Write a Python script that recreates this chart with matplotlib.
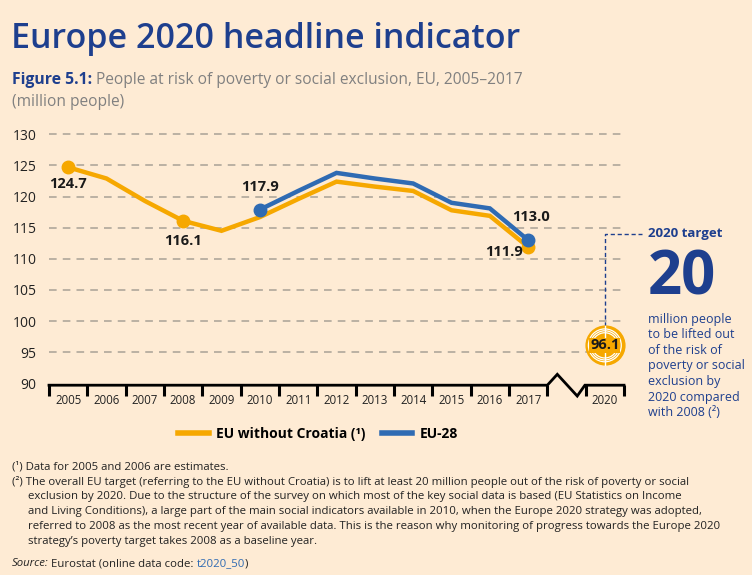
import numpy as np
import matplotlib
matplotlib.use('Agg')
import matplotlib.pyplot as plt
from matplotlib.lines import Line2D

# data (million people)
years = ['2005', '2006', '2007', '2008', '2009', '2010', '2011', '2012',
         '2013', '2014', '2015', '2016', '2017', '2020']
x_pos = [0, 1, 2, 3, 4, 5, 6, 7, 8, 9, 10, 11, 12, 14]
eu_no_hr = [124.7, 122.9, 119.3, 116.1, 114.5, 116.7, 119.6, 122.4,
            121.6, 120.9, 117.8, 116.9, 111.9]
eu28_years = [5, 6, 7, 8, 9, 10, 11, 12]
eu28 = [117.9, 120.9, 123.8, 122.9, 122.1, 119.0, 118.1, 113.0]
target_x = 14
target_val = 96.1
yticks = [90, 95, 100, 105, 110, 115, 120, 125, 130]

BG = '#FEEBD4'
ORANGE = '#F6A800'
BLUE = '#2F6BB3'
NAVY = '#1E3F8E'
GREY = '#808080'
INK = '#1a1a1a'
W, H = 752, 575

plt.rcParams['font.family'] = ['Open Sans', 'DejaVu Sans']

fig = plt.figure(figsize=(7.52, 5.75), dpi=100, facecolor=BG)
renderer = fig.canvas.get_renderer()


def fx(px):
    return px / W


def fy(py):
    return 1 - py / H


def seq_text(x0, y, parts):
    # put text pieces one after another on a line (x0, y in pixels)
    x = x0
    for s, kw, gap in parts:
        t = fig.text(fx(x), fy(y), s, va='center', ha='left', **kw)
        x = t.get_window_extent(renderer).x1 + gap


ax = fig.add_axes([fx(49), fy(385.2), fx(624) - fx(49), fy(134.3) - fy(385.2)])
ax.set_facecolor(BG)
ax.set_xlim(-0.5, 14.5)
ax.set_ylim(89.7, 130)
for s in ax.spines.values():
    s.set_visible(False)

# gridlines
for v in yticks[1:]:
    ax.axhline(v, color='#A8A196', lw=1.1, ls=(0, (5, 4)), zorder=1, clip_on=False)

ax.set_yticks(yticks)
ax.set_yticklabels([str(v) for v in yticks], fontsize=10, color='#222222')
ax.tick_params(axis='y', length=0, pad=9)
ax.set_xticks(x_pos)
ax.set_xticklabels(years, fontsize=8.3, color='#222222')
ax.tick_params(axis='x', length=0, pad=6)

# broken x axis
ybase = 89.7
ax.plot([-0.5, 12.5, 12.76, 13.28, 13.48, 14.5],
        [ybase, ybase, 91.45, 87.96, ybase, ybase],
        color='black', lw=2, clip_on=False, zorder=3, solid_joinstyle='miter')
tick_x = [i - 0.5 for i in range(14)] + [13.5, 14.5]
for tx in tick_x:
    ax.plot([tx, tx], [ybase, ybase - 1.75], color='black', lw=2.2,
            clip_on=False, zorder=3, solid_capstyle='butt')

# series
ax.plot(x_pos[:13], eu_no_hr, color=ORANGE, lw=3.2, zorder=4,
        solid_joinstyle='miter')
ax.plot(eu28_years, eu28, color=BLUE, lw=3.2, zorder=5, solid_joinstyle='miter')
for i in [0, 3, 12]:
    ax.plot(x_pos[i], eu_no_hr[i], 'o', color=ORANGE, ms=9, zorder=4)
for i in [0, 7]:
    ax.plot(eu28_years[i], eu28[i], 'o', color=BLUE, ms=9, zorder=5)

lab = dict(fontsize=10.5, fontweight='bold', color=INK, ha='center',
           va='center', textcoords='offset points', zorder=6)
ax.annotate(f'{eu_no_hr[0]:.1f}', (x_pos[0], eu_no_hr[0]), xytext=(0, -12.3), **lab)
ax.annotate(f'{eu_no_hr[3]:.1f}', (x_pos[3], eu_no_hr[3]), xytext=(0, -14.4), **lab)
ax.annotate(f'{eu28[0]:.1f}', (eu28_years[0], eu28[0]), xytext=(0, 16.3), **lab)
ax.annotate(f'{eu28[-1]:.1f}', (eu28_years[-1], eu28[-1]), xytext=(2, 16.3), **lab)
ax.annotate(f'{eu_no_hr[12]:.1f}', (x_pos[12], eu_no_hr[12]), xytext=(-17.7, -3.3), **lab)

# 2020 target marker
ax.scatter([target_x], [target_val], s=780, color=ORANGE, zorder=6, clip_on=False)
for s in [560, 440, 330]:
    ax.scatter([target_x], [target_val], s=s, facecolor='none', edgecolor='white',
               lw=0.9, zorder=7, clip_on=False)
ax.plot([target_x, target_x], [target_val - 3.1, target_val + 3.1], color='white',
        lw=1, zorder=7, clip_on=False)
ax.text(target_x, target_val, f'{target_val:.1f}', fontsize=10.5, fontweight='bold',
        color=INK, ha='center', va='center', zorder=8,
        bbox=dict(boxstyle='square,pad=0.05', fc=ORANGE, ec='none'))
ax.plot([target_x, target_x, target_x + 0.97], [target_val + 3.1, 114.0, 114.0],
        color=NAVY, lw=1, ls=(0, (3, 2)), zorder=5, clip_on=False)

# right side text
fig.text(fx(648), fy(234), '2020 target', fontsize=9.5, fontweight='bold',
         color=NAVY, va='center', ha='left')
fig.text(fx(648), fy(279), '20', fontsize=43, fontweight='bold', color=NAVY,
         va='center', ha='left')
fig.text(fx(648), fy(313), 'million people\nto be lifted out\nof the risk of\n'
         'poverty or social\nexclusion by\n2020 compared\nwith 2008 (\u00b2)',
         fontsize=9, color=NAVY, va='top', ha='left', linespacing=1.25)

# title
fig.text(fx(11), fy(39), 'Europe 2020 headline indicator', fontsize=24.5,
         fontweight='semibold', color=NAVY, va='center', ha='left')
seq_text(12, 80, [('Figure 5.1:', dict(fontsize=11.3, fontweight='bold', color=NAVY), 4),
                  ('People at risk of poverty or social exclusion, EU, 2005\u20132017',
                   dict(fontsize=11.2, color=GREY), 0)])
fig.text(fx(12), fy(102), '(million people)', fontsize=11.2, color=GREY,
         va='center', ha='left')

# legend
handles = [Line2D([], [], color=ORANGE, lw=4), Line2D([], [], color=BLUE, lw=4)]
fig.legend(handles, ['EU without Croatia (\u00b9)', 'EU-28'], loc='center',
           bbox_to_anchor=(fx(318), fy(434)), ncol=2, frameon=False,
           prop=dict(size=10, weight='bold'), handlelength=2.2,
           columnspacing=1.2, handletextpad=0.5)

# footnotes
FS = 8.2
fn = dict(fontsize=FS, color='#222222')
fig.text(fx(12), fy(467), '(\u00b9) Data for 2005 and 2006 are estimates.',
         va='center', ha='left', **fn)
fig.text(fx(12), fy(482), '(\u00b2) The overall EU target (referring to the EU without Croatia) '
         'is to lift at least 20 million people out of the risk of poverty or social',
         va='center', ha='left', **fn)
lines = ['exclusion by 2020. Due to the structure of the survey on which most of the key '
         'social data is based (EU Statistics on Income',
         'and Living Conditions), a large part of the main social indicators available in '
         '2010, when the Europe 2020 strategy was adopted,',
         'referred to 2008 as the most recent year of available data. This is the reason why '
         'monitoring of progress towards the Europe 2020',
         'strategy\u2019s poverty target takes 2008 as a baseline year.']
for k, ln in enumerate(lines):
    fig.text(fx(28), fy(497 + 14.7 * k), ln, va='center', ha='left', **fn)
seq_text(12, 564, [('Source:', dict(fontsize=FS, style='italic', color='#222222'), 2.5),
                   ('Eurostat (online data code:', fn, 3),
                   ('t2020_50', dict(fontsize=FS, color=BLUE), 0),
                   (')', fn, 0)])

fig.savefig('out.png', dpi=100, facecolor=BG)
